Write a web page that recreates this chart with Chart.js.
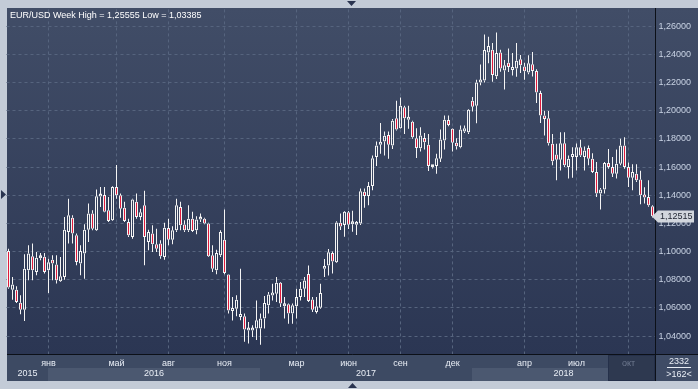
<!DOCTYPE html>
<html>
<head>
<meta charset="utf-8">
<script src="https://cdn.jsdelivr.net/npm/chart.js@4.4.0/dist/chart.umd.min.js"></script>
<style>
  html, body { margin: 0; padding: 0; background: #c3cbd7; }
  #chart { display: block; }
</style>
</head>
<body>
<canvas id="chart" width="698" height="389"></canvas>
<script>
// weekly EUR/USD candles
const opens = [
  1.1005, 1.0730, 1.0730, 1.0638, 1.0588, 1.0867, 1.0967, 1.0856, 1.0953, 1.0964,
  1.0867, 1.0943, 1.0908, 1.0789, 1.0820, 1.1140, 1.1241, 1.1116, 1.0915, 1.0986,
  1.1156, 1.1270, 1.1151, 1.1391, 1.1402, 1.1293, 1.1222, 1.1459, 1.1400, 1.1312,
  1.1211, 1.1104, 1.1353, 1.1246, 1.1329, 1.1069, 1.1128, 1.1052, 1.1057, 1.0962,
  1.1168, 1.1085, 1.1151, 1.1317, 1.1192, 1.1151, 1.1234, 1.1151, 1.1227, 1.1234,
  1.1199, 1.0974, 1.0867, 1.0974, 1.1085, 1.0837, 1.0579, 1.0595, 1.0536, 1.0541,
  1.0440, 1.0440, 1.0454, 1.0454, 1.0525, 1.0619, 1.0689, 1.0701, 1.0779, 1.0612,
  1.0626, 1.0560, 1.0612, 1.0678, 1.0736, 1.0842, 1.0661, 1.0572, 1.0602, 1.0878,
  1.0901, 1.0990, 1.0925, 1.1205, 1.1188, 1.1280, 1.1195, 1.1190, 1.1200, 1.1424,
  1.1395, 1.1466, 1.1671, 1.1758, 1.1781, 1.1828, 1.1753, 1.1946, 1.1875, 1.2024,
  1.1936, 1.1922, 1.1805, 1.1734, 1.1807, 1.1758, 1.1598, 1.1607, 1.1659, 1.1788,
  1.1934, 1.1871, 1.1772, 1.1741, 1.1852, 1.1847, 1.2071, 1.2035, 1.2200, 1.2215,
  1.2412, 1.2433, 1.2245, 1.2412, 1.2286, 1.2341, 1.2289, 1.2300, 1.2365, 1.2313,
  1.2271, 1.2329, 1.2282, 1.2125, 1.1965, 1.1946, 1.1765, 1.1689, 1.1652, 1.1769,
  1.1600, 1.1671, 1.1671, 1.1741, 1.1671, 1.1736, 1.1659, 1.1565, 1.1412, 1.1440,
  1.1628, 1.1600, 1.1553, 1.1624, 1.1753, 1.1600, 1.1525, 1.1553, 1.1511, 1.1400,
  1.1388, 1.1322
];
const highs = [
  1.1021, 1.0820, 1.0754, 1.0690, 1.0981, 1.1045, 1.1057, 1.0998, 1.0990, 1.0990,
  1.0950, 1.0974, 1.0974, 1.0962, 1.1246, 1.1376, 1.1258, 1.1128, 1.1045, 1.1194,
  1.1341, 1.1293, 1.1440, 1.1459, 1.1459, 1.1388, 1.1464, 1.1614, 1.1412, 1.1353,
  1.1234, 1.1376, 1.1412, 1.1305, 1.1431, 1.1156, 1.1187, 1.1163, 1.1080, 1.1204,
  1.1234, 1.1180, 1.1376, 1.1353, 1.1222, 1.1329, 1.1282, 1.1251, 1.1270, 1.1241,
  1.1204, 1.1045, 1.1014, 1.1151, 1.1298, 1.0840, 1.0678, 1.0690, 1.0878, 1.0560,
  1.0501, 1.0478, 1.0654, 1.0560, 1.0685, 1.0713, 1.0772, 1.0819, 1.0784, 1.0678,
  1.0631, 1.0631, 1.0736, 1.0784, 1.0819, 1.0901, 1.0678, 1.0678, 1.0772, 1.0948,
  1.1019, 1.1000, 1.1215, 1.1271, 1.1289, 1.1289, 1.1290, 1.1218, 1.1447, 1.1447,
  1.1494, 1.1682, 1.1781, 1.1913, 1.1852, 1.1852, 1.1941, 1.2071, 1.2094, 1.2035,
  1.2035, 1.1929, 1.1875, 1.1882, 1.1842, 1.1835, 1.1615, 1.1694, 1.1866, 1.1965,
  1.1965, 1.1875, 1.1805, 1.1894, 1.1894, 1.2012, 1.2097, 1.2219, 1.2327, 1.2540,
  1.2524, 1.2480, 1.25555, 1.2433, 1.2360, 1.2442, 1.2410, 1.2480, 1.2395, 1.2341,
  1.2393, 1.2416, 1.2294, 1.2141, 1.2000, 1.1997, 1.1835, 1.1765, 1.1847, 1.1847,
  1.1682, 1.1741, 1.1768, 1.1794, 1.1745, 1.1753, 1.1698, 1.1635, 1.1452, 1.1635,
  1.1729, 1.1671, 1.1724, 1.1800, 1.1812, 1.1633, 1.1620, 1.1620, 1.1573, 1.1456,
  1.1506, 1.1329
];
const lows = [
  1.0737, 1.0659, 1.0635, 1.0555, 1.0508, 1.0796, 1.0796, 1.0832, 1.0938, 1.0844,
  1.0706, 1.0796, 1.0773, 1.0785, 1.0801, 1.1057, 1.1057, 1.0903, 1.0832, 1.0808,
  1.1069, 1.1151, 1.1147, 1.1317, 1.1280, 1.1211, 1.1218, 1.1376, 1.1241, 1.1211,
  1.1104, 1.1092, 1.1234, 1.1222, 1.0903, 1.1009, 1.0998, 1.0998, 1.0950, 1.0943,
  1.1045, 1.1052, 1.1140, 1.1151, 1.1140, 1.1140, 1.1140, 1.1123, 1.1211, 1.1194,
  1.0962, 1.0856, 1.0839, 1.0962, 1.0839, 1.0560, 1.0512, 1.0541, 1.0513, 1.0360,
  1.0348, 1.0395, 1.0372, 1.03385, 1.0454, 1.0560, 1.0654, 1.0642, 1.0607, 1.0525,
  1.0489, 1.0489, 1.0525, 1.0654, 1.0678, 1.0642, 1.0572, 1.0560, 1.0595, 1.0819,
  1.0831, 1.0845, 1.0920, 1.1153, 1.1106, 1.1160, 1.1141, 1.1118, 1.1188, 1.1311,
  1.1329, 1.1435, 1.1607, 1.1694, 1.1682, 1.1659, 1.1729, 1.1859, 1.1871, 1.1835,
  1.1871, 1.1800, 1.1664, 1.1711, 1.1725, 1.1572, 1.1590, 1.1553, 1.1635, 1.1725,
  1.1889, 1.1711, 1.1725, 1.1734, 1.1842, 1.1835, 1.1995, 1.1910, 1.2180, 1.2200,
  1.2336, 1.2205, 1.2225, 1.2277, 1.2150, 1.2275, 1.2250, 1.2240, 1.2268, 1.2219,
  1.2259, 1.2242, 1.2054, 1.1913, 1.1824, 1.1753, 1.1612, 1.1506, 1.1576, 1.1600,
  1.1518, 1.1525, 1.1576, 1.1671, 1.1576, 1.1612, 1.1558, 1.1388, 1.1299, 1.1412,
  1.1588, 1.1529, 1.1518, 1.1612, 1.1588, 1.1459, 1.1435, 1.1494, 1.1336, 1.1341,
  1.1318, 1.1242
];
const closes = [
  1.0745, 1.0766, 1.0643, 1.0588, 1.0879, 1.0986, 1.0867, 1.0957, 1.0964, 1.0856,
  1.0924, 1.0915, 1.0796, 1.0825, 1.1156, 1.1258, 1.1128, 1.0927, 1.1005, 1.1156,
  1.1270, 1.1163, 1.1393, 1.1402, 1.1282, 1.1218, 1.1459, 1.1400, 1.1305, 1.1218,
  1.1116, 1.1369, 1.1246, 1.1279, 1.1104, 1.1140, 1.1052, 1.1021, 1.0967, 1.1170,
  1.1085, 1.1151, 1.1329, 1.1187, 1.1151, 1.1234, 1.1147, 1.1227, 1.1239, 1.1199,
  1.0967, 1.0879, 1.0990, 1.1140, 1.0848, 1.0583, 1.0593, 1.0659, 1.0555, 1.0447,
  1.0454, 1.0454, 1.0513, 1.0525, 1.0635, 1.0696, 1.0706, 1.0779, 1.0631, 1.0624,
  1.0560, 1.0619, 1.0678, 1.0736, 1.0795, 1.0649, 1.0588, 1.0612, 1.0706, 1.0894,
  1.0995, 1.0930, 1.1207, 1.1178, 1.1282, 1.1190, 1.1207, 1.1205, 1.1428, 1.1395,
  1.1466, 1.1663, 1.1753, 1.1776, 1.1823, 1.1758, 1.1929, 1.1866, 1.2035, 1.1946,
  1.1953, 1.1812, 1.1736, 1.1824, 1.1776, 1.1607, 1.1602, 1.1663, 1.1795, 1.1936,
  1.1899, 1.1772, 1.1748, 1.1866, 1.1875, 1.2007, 1.2028, 1.2200, 1.2218, 1.2431,
  1.2459, 1.2253, 1.2410, 1.2300, 1.2323, 1.2310, 1.2308, 1.2355, 1.2322, 1.2280,
  1.2336, 1.2282, 1.2129, 1.1965, 1.1941, 1.1769, 1.1642, 1.1652, 1.1769, 1.1612,
  1.1659, 1.1689, 1.1741, 1.1682, 1.1718, 1.1659, 1.1565, 1.1412, 1.1440, 1.1628,
  1.1600, 1.1553, 1.1624, 1.1753, 1.1600, 1.1525, 1.1565, 1.1506, 1.1400, 1.1384,
  1.1329, 1.12515
];

// one category per week, starting 26 Oct 2015
const weeks = opens.map((_, i) => new Date(Date.UTC(2015, 9, 26 + 7 * i)).toISOString().slice(0, 10));

const monthTicks = [10, 27, 40, 54, 72, 85, 98, 111, 129, 142, 155];
const monthNames = ['янв', 'май', 'авг', 'ноя', 'мар', 'июн', 'сен', 'дек', 'апр', 'июл', 'окт'];
const yearStarts = [0, 10, 63, 116];
const yearNames = ['2015', '2016', '2017', '2018'];
const priceTicks = [1.04, 1.06, 1.08, 1.10, 1.12, 1.14, 1.16, 1.18, 1.20, 1.22, 1.24, 1.26];
const titleText = 'EUR/USD Week High = 1,25555 Low = 1,03385';

const RED = '#e01a3c';
const WHITE = '#f4f4f4';
const FONT = '"Liberation Sans", Arial, sans-serif';

const fmt = v => v.toFixed(5).replace('.', ',');
const bear = i => closes[i] < opens[i];

// frame, plot gradient and the time strip under the plot
const backdrop = {
  id: 'backdrop',
  beforeDraw(chart) {
    const ctx = chart.ctx;
    const xs = chart.scales.x;
    ctx.save();
    ctx.fillStyle = '#c3cbd7';
    ctx.fillRect(0, 0, 698, 389);
    const g = ctx.createLinearGradient(0, 8, 0, 355);
    g.addColorStop(0, '#414d67');
    g.addColorStop(1, '#2b3653');
    ctx.fillStyle = g;
    ctx.fillRect(7, 8, 691, 347);
    ctx.fillStyle = '#3d4a63';
    ctx.fillRect(7, 355, 691, 26);
    // alternate year bands in the lower row
    const edges = yearStarts.map(i => Math.round(xs.getPixelForValue(i) - 0.5));
    edges[0] = 7;
    edges.push(655);
    ctx.fillStyle = '#4b5870';
    for (let k = 1; k < yearNames.length; k += 2) {
      ctx.fillRect(edges[k], 368, edges[k + 1] - edges[k], 13);
    }
    // dark box at the right end of the strip
    const bx = Math.round(xs.getPixelForValue(150) - 0.5);
    ctx.fillStyle = '#2e3950';
    ctx.fillRect(bx, 355, 655 - bx, 26);
    ctx.strokeStyle = '#25304a';
    ctx.strokeRect(bx + 0.5, 355.5, 655 - bx - 1, 25);
    ctx.restore();
  }
};

const overlay = {
  id: 'overlay',
  afterDraw(chart) {
    const ctx = chart.ctx;
    const xs = chart.scales.x, ys = chart.scales.y;
    ctx.save();
    // separators
    ctx.strokeStyle = '#0c1018';
    ctx.lineWidth = 1;
    ctx.beginPath();
    ctx.moveTo(7, 354.5); ctx.lineTo(698, 354.5);
    ctx.moveTo(655.5, 8); ctx.lineTo(655.5, 381);
    ctx.stroke();

    ctx.font = '9px ' + FONT;
    ctx.textBaseline = 'middle';
    // year labels
    const edges = yearStarts.map(i => Math.round(xs.getPixelForValue(i) - 0.5));
    edges[0] = 7;
    edges.push(655);
    ctx.fillStyle = '#e8edf5';
    ctx.textAlign = 'center';
    yearNames.forEach((y, k) => ctx.fillText(y, (edges[k] + edges[k + 1]) / 2, 374));

    // counter box
    ctx.fillStyle = '#3f4c66';
    ctx.fillRect(656, 355, 42, 26);
    ctx.fillStyle = '#e8edf5';
    ctx.fillText('2332', 679, 361.5);
    ctx.fillText('>162<', 679, 374.5);
    ctx.fillRect(667, 367, 24, 1);

    // last price tag
    const last = closes[closes.length - 1];
    const py = Math.round(ys.getPixelForValue(last)) + 0.5;
    ctx.fillStyle = '#d2d6dd';
    ctx.beginPath();
    ctx.moveTo(652, py);
    ctx.lineTo(658, py - 6);
    ctx.lineTo(694, py - 6);
    ctx.lineTo(694, py + 6);
    ctx.lineTo(658, py + 6);
    ctx.closePath();
    ctx.fill();
    ctx.fillStyle = '#1e2430';
    ctx.textAlign = 'left';
    ctx.fillText(fmt(last), 660, py + 0.5);

    // title
    ctx.fillStyle = '#ffffff';
    ctx.textBaseline = 'alphabetic';
    ctx.fillText(titleText, 10, 18);

    // small scroll arrows in the frame
    ctx.fillStyle = '#2a3450';
    ctx.beginPath();
    ctx.moveTo(347, 1); ctx.lineTo(356, 1); ctx.lineTo(351.5, 6); ctx.closePath();
    ctx.moveTo(348, 388); ctx.lineTo(357, 388); ctx.lineTo(352.5, 383); ctx.closePath();
    ctx.moveTo(1, 190); ctx.lineTo(1, 199); ctx.lineTo(6, 194.5); ctx.closePath();
    ctx.fill();
    ctx.restore();
  }
};

new Chart(document.getElementById('chart'), {
  type: 'bar',
  data: {
    labels: weeks,
    datasets: [
      {
        label: 'body',
        data: opens.map((o, i) => [o, closes[i]]),
        barThickness: 3,
        borderWidth: 1,
        borderColor: WHITE,
        borderSkipped: false,
        inflateAmount: 0,
        minBarLength: 3,
        backgroundColor: c => bear(c.dataIndex) ? RED : 'rgba(0,0,0,0)',
        grouped: false
      },
      {
        label: 'upper wick',
        data: opens.map((o, i) => [Math.max(o, closes[i]), highs[i]]),
        barThickness: 1,
        borderWidth: 0,
        inflateAmount: 0,
        backgroundColor: WHITE,
        grouped: false
      },
      {
        label: 'lower wick',
        data: opens.map((o, i) => [lows[i], Math.min(o, closes[i])]),
        barThickness: 1,
        borderWidth: 0,
        inflateAmount: 0,
        backgroundColor: WHITE,
        grouped: false
      }
    ]
  },
  options: {
    responsive: false,
    animation: false,
    devicePixelRatio: 1,
    layout: { padding: { left: 6.5, top: 8, right: 0, bottom: 0 } },
    plugins: {
      legend: { display: false },
      tooltip: { enabled: false },
      title: { display: false }
    },
    scales: {
      x: {
        type: 'category',
        offset: true,
        afterFit: s => { s.height = 35; },
        afterBuildTicks: s => { s.ticks = monthTicks.map(v => ({ value: v })); },
        grid: { offset: false, color: '#56647e', lineWidth: 1, drawTicks: false },
        border: { display: false, dash: [3, 3] },
        ticks: {
          autoSkip: false,
          maxRotation: 0,
          padding: 4,
          font: { family: FONT, size: 9 },
          color: c => c.index === monthNames.length - 1 ? '#6e798f' : '#e8edf5',
          callback: (v, i) => monthNames[i]
        }
      },
      y: {
        position: 'right',
        min: 1.02735,
        max: 1.27187,
        afterFit: s => { s.width = 43.5; },
        afterBuildTicks: s => { s.ticks = priceTicks.map(v => ({ value: v })); },
        grid: { color: '#56647e', lineWidth: 1, drawTicks: false },
        border: { display: false, dash: [3, 3] },
        ticks: {
          padding: 4,
          font: { family: FONT, size: 9 },
          color: '#c9d3e4',
          callback: v => fmt(v)
        }
      }
    }
  },
  plugins: [backdrop, overlay]
});
</script>
</body>
</html>
